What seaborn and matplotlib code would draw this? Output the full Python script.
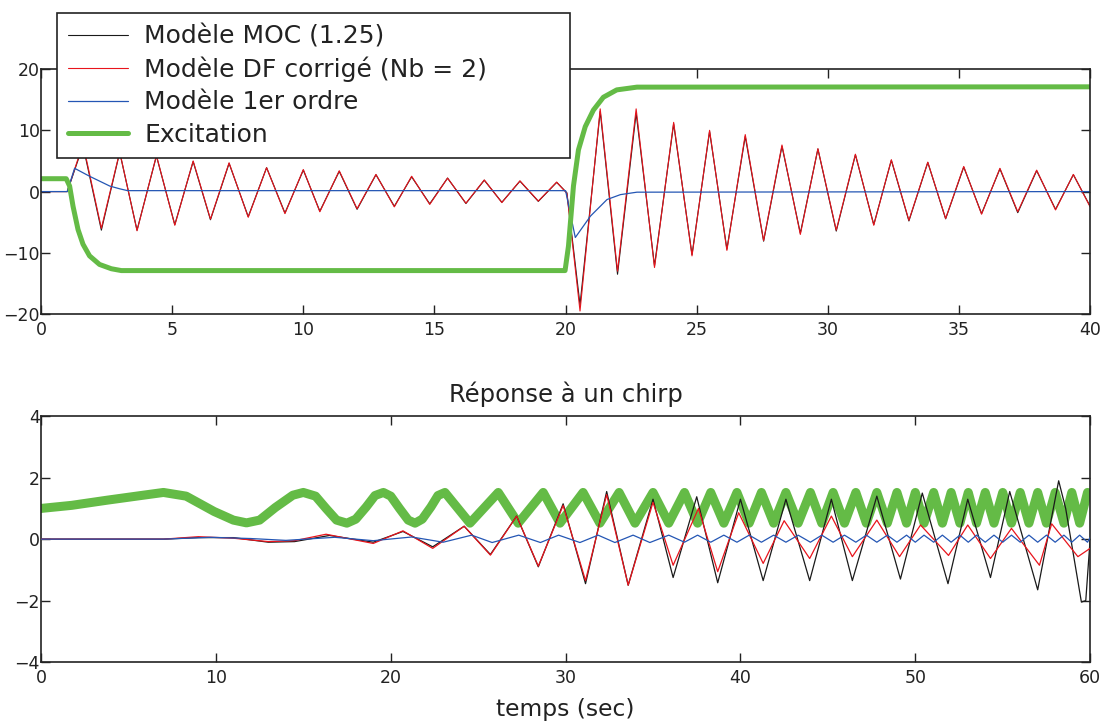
import matplotlib
matplotlib.use('Agg')
import matplotlib.pyplot as plt
import seaborn as sns

sns.set_style('ticks')
plt.rcParams['font.family'] = ['DejaVu Sans']
plt.rcParams['axes.unicode_minus'] = True

# ---- top plot: step response (extrema) ----
top_t = [0.0, 1.0, 1.6, 2.3, 3.0, 3.66, 4.4, 5.1, 5.8, 6.46, 7.17, 7.9, 8.6, 9.3, 10.0,
         10.63, 11.37, 12.05, 12.77, 13.47, 14.13, 14.82, 15.5, 16.2, 16.9, 17.57, 18.26,
         18.96, 19.66, 20.05, 20.55, 21.32, 21.98, 22.69, 23.39, 24.12, 24.82, 25.49, 26.15,
         26.85, 27.55, 28.25, 28.95, 29.62, 30.32, 31.05, 31.75, 32.42, 33.09, 33.81, 34.49,
         35.18, 35.86, 36.56, 37.24, 37.96, 38.68, 39.36, 40.0]
moc_top = [0, 0, 7.5, -6.3, 6.4, -6.3, 5.8, -5.4, 4.9, -4.6, 4.6, -4.1, 3.9, -3.5, 3.5,
           -3.2, 3.3, -2.9, 2.75, -2.4, 2.4, -2.0, 2.2, -1.95, 1.85, -1.75, 1.7,
           -1.6, 1.5, -0.2, -18.5, 13.1, -13.5, 12.8, -12.1, 11.05, -10.3, 9.8, -9.4,
           9.0, -8.1, 7.4, -6.8, 6.95, -6.45, 6.0, -5.4, 5.1, -4.8, 4.75, -4.45,
           4.0, -3.6, 3.7, -3.45, 3.4, -2.9, 2.75, -2.4]
df_top = [0, 0, 7.8, -6.0, 6.5, -6.4, 5.9, -5.5, 5.0, -4.5, 4.7, -4.2, 3.9, -3.6, 3.6,
          -3.3, 3.4, -2.8, 2.8, -2.5, 2.5, -2.1, 2.2, -1.9, 1.9, -1.8, 1.75,
          -1.55, 1.55, -0.3, -19.5, 13.5, -13.0, 13.5, -12.4, 11.3, -10.5, 10.0, -9.6,
          9.3, -8.0, 7.6, -7.0, 7.0, -6.3, 6.1, -5.5, 5.2, -4.7, 4.8, -4.4,
          4.1, -3.7, 3.8, -3.3, 3.5, -3.0, 2.8, -2.5]
ordre1_top_t = [0, 1.0, 1.28, 1.85, 2.62, 3.0, 3.3, 20.0, 20.37, 20.95, 21.58, 22.09, 22.72, 40.0]
ordre1_top = [0, 0, 3.8, 2.5, 0.9, 0.45, 0.15, 0.15, -7.5, -4.0, -1.3, -0.5, -0.1, 0]
exc_top_t = [0, 0.96, 1.09, 1.22, 1.41, 1.6, 1.85, 2.23, 2.68, 3.06, 19.98, 20.11, 20.3,
             20.49, 20.75, 21.06, 21.44, 21.95, 22.72, 40.0]
exc_top = [2.1, 2.1, 0.9, -2.4, -6.2, -8.6, -10.5, -11.9, -12.6, -12.9, -12.9, -8.9, 0.9,
           6.8, 10.6, 13.3, 15.4, 16.6, 17.05, 17.1]

# ---- bottom plot: chirp response ----
exc_bot_t = [0, 1.75, 3.8, 5.84, 7.0, 8.3, 9.9, 11.0, 11.75, 12.5, 13.4, 14.4, 15.0, 15.7,
             16.3, 16.9, 17.49, 18.0, 18.6, 19.1, 19.58, 20.0, 20.5, 21.0, 21.39, 21.8,
             22.3, 22.7, 23.1, 24.53, 26.15, 27.29, 28.72, 29.68, 31.0, 31.96, 33.06,
             33.97, 35.0, 35.9, 36.8, 37.55, 38.3, 39.05, 39.8, 40.5, 41.2, 41.9, 42.6,
             43.3, 44.0, 44.65, 45.3, 45.95, 46.6, 47.2, 47.8, 48.4, 48.95, 49.5, 50.0,
             50.5, 51.05, 51.55, 52.05, 52.55, 53.03, 53.5, 54.0, 54.5, 55.0, 55.5, 56.0,
             56.5, 57.0, 57.5, 58.0, 58.5, 58.95, 59.4, 59.85, 60.0]
exc_bot = [1.0, 1.1, 1.27, 1.43, 1.52, 1.4, 0.9, 0.62, 0.53, 0.62, 1.03, 1.43, 1.52, 1.4,
           1.0, 0.62, 0.52, 0.65, 1.05, 1.42, 1.52, 1.4, 1.0, 0.62, 0.52, 0.65,
           1.05, 1.42, 1.52, 0.52, 1.52, 0.52, 1.52, 0.52, 1.52, 0.52, 1.52,
           0.52, 1.52, 0.52, 1.52, 0.52, 1.52, 0.52, 1.52, 0.52, 1.52, 0.52, 1.52,
           0.52, 1.52, 0.52, 1.52, 0.52, 1.52, 0.52, 1.52, 0.52, 1.52, 0.52, 1.52,
           0.52, 1.52, 0.52, 1.52, 0.52, 1.52, 0.52, 1.52, 0.52, 1.52, 0.52, 1.52,
           0.52, 1.52, 0.52, 1.52, 0.52, 1.52, 0.52, 1.52, 1.45]
moc_bot_t = [0, 7.0, 9.0, 11.0, 13.0, 14.5, 16.5, 19.0, 20.7, 22.4, 24.2, 25.7, 27.2, 28.44,
             29.86, 31.14, 32.35, 33.58, 35.0, 36.15, 37.5, 38.7, 40.0, 41.3, 42.6, 43.96,
             45.2, 46.4, 47.8, 49.15, 50.4, 51.87, 53.0, 54.3, 55.4, 57.0, 58.2, 58.6,
             59.5, 59.75, 60.0]
moc_bot = [0, 0, 0.05, 0.05, -0.1, -0.08, 0.12, -0.1, 0.25, -0.25, 0.42, -0.5, 0.75, -0.9,
           1.15, -1.45, 1.55, -1.5, 1.3, -1.25, 1.38, -1.42, 1.3, -1.35, 1.3, -1.35,
           1.3, -1.35, 1.4, -1.3, 1.5, -1.45, 1.3, -1.25, 1.55, -1.65, 1.9, 1.0,
           -2.05, -2.0, 0.0]
df_bot_t = [0, 7.0, 9.0, 11.0, 13.0, 14.5, 16.3, 19.0, 20.7, 22.4, 24.2, 25.7, 27.2, 28.44,
            29.86, 31.14, 32.35, 33.58, 35.0, 36.15, 37.6, 38.7, 39.9, 41.3, 42.5, 43.96,
            45.2, 46.4, 47.8, 49.1, 50.3, 51.9, 53.0, 54.3, 55.5, 57.1, 57.8, 59.3, 60.0]
df_bot = [0, 0, 0.08, 0.03, -0.08, -0.05, 0.16, -0.14, 0.27, -0.3, 0.42, -0.52, 0.75, -0.88,
          1.1, -1.35, 1.45, -1.5, 1.2, -0.85, 1.0, -1.06, 0.86, -0.79, 0.6, -0.63,
          0.75, -0.57, 0.62, -0.57, 0.46, -0.53, 0.46, -0.63, 0.35, -0.85, 0.5, -0.57, -0.3]
ordre1_bot_t = [0, 7.0, 9.7, 12.0, 14.0, 16.8, 19.0, 21.2, 23.0, 24.63, 25.8, 27.32, 28.56,
                29.6, 30.82, 31.86, 32.82, 33.86, 34.82, 35.9, 36.8, 37.55, 38.3, 39.05,
                39.8, 40.5, 41.2, 41.9, 42.6, 43.3, 44.0, 44.65, 45.3, 45.95, 46.6, 47.2,
                47.8, 48.4, 48.95, 49.5, 50.0, 50.5, 51.05, 51.55, 52.05, 52.55, 53.03,
                53.5, 54.0, 54.5, 55.0, 55.5, 56.0, 56.5, 57.0, 57.5, 58.0, 58.5, 58.95,
                59.4, 59.85, 60.0]
ordre1_bot = [0, 0, 0.06, 0.02, -0.04, 0.06, -0.05, 0.07, -0.1, 0.13, -0.11, 0.13, -0.11,
              0.13, -0.11, 0.13, -0.11, 0.13, -0.11, 0.13, -0.1, 0.13, -0.1, 0.13,
              -0.1, 0.13, -0.1, 0.13, -0.1, 0.13, -0.1, 0.13, -0.1, 0.13, -0.1, 0.13,
              -0.1, 0.13, -0.1, 0.13, -0.1, 0.13, -0.1, 0.13, -0.1, 0.13, -0.1,
              0.13, -0.1, 0.13, -0.1, 0.13, -0.1, 0.13, -0.1, 0.13, -0.1, 0.13, -0.1,
              0.13, -0.1, 0.05]

labels = ['Modèle MOC (1.25)', 'Modèle DF corrigé (Nb = 2)', 'Modèle 1er ordre', 'Excitation']
c_moc = '#1a1a1a'
c_df = '#e8141c'
c_ord = '#2456b4'
c_exc = '#64bb46'

fig = plt.figure(figsize=(11.09, 7.27), dpi=100)
ax1 = fig.add_axes([0.037, 0.568, 0.946, 0.337])
ax2 = fig.add_axes([0.037, 0.0894, 0.946, 0.338])

sns.lineplot(x=top_t, y=moc_top, ax=ax1, color=c_moc, lw=0.8, sort=False, estimator=None, label=labels[0])
sns.lineplot(x=top_t, y=df_top, ax=ax1, color=c_df, lw=0.8, sort=False, estimator=None, label=labels[1])
sns.lineplot(x=ordre1_top_t, y=ordre1_top, ax=ax1, color=c_ord, lw=0.9, sort=False, estimator=None, label=labels[2])
sns.lineplot(x=exc_top_t, y=exc_top, ax=ax1, color=c_exc, lw=3.6, sort=False, estimator=None, label=labels[3])

sns.lineplot(x=exc_bot_t, y=exc_bot, ax=ax2, color=c_exc, lw=6.5, sort=False, estimator=None, zorder=1)
sns.lineplot(x=moc_bot_t, y=moc_bot, ax=ax2, color=c_moc, lw=0.9, sort=False, estimator=None, zorder=2)
sns.lineplot(x=df_bot_t, y=df_bot, ax=ax2, color=c_df, lw=0.9, sort=False, estimator=None, zorder=3)
sns.lineplot(x=ordre1_bot_t, y=ordre1_bot, ax=ax2, color=c_ord, lw=0.9, sort=False, estimator=None, zorder=4)

ax1.set_xlim(0, 40)
ax1.set_ylim(-20, 20)
ax1.set_xticks(range(0, 41, 5))
ax1.set_yticks([-20, -10, 0, 10, 20])
ax2.set_xlim(0, 60)
ax2.set_ylim(-4, 4)
ax2.set_xticks(range(0, 61, 10))
ax2.set_yticks([-4, -2, 0, 2, 4])

for ax in (ax1, ax2):
    ax.set_xlabel('')
    ax.set_ylabel('')
    for sp in ax.spines.values():
        sp.set_visible(True)
        sp.set_color('#222222')
        sp.set_linewidth(1.2)
    ax.tick_params(direction='in', length=6.5, width=1.0, top=True, right=True,
                   labelsize=12.5, colors='#222222')
    ax.tick_params(axis='x', pad=5)
    ax.tick_params(axis='y', pad=1)

ax2.set_title('Réponse à un chirp', fontsize=17.5, color='#222222', pad=10)
ax2.set_xlabel('temps (sec)', fontsize=16.8, color='#222222', labelpad=8)

leg = ax1.legend(loc='upper left', bbox_to_anchor=(0.0514, 0.784, 0.463, 0.198),
                 bbox_transform=fig.transFigure, mode='expand', borderaxespad=0,
                 fontsize=18, handlelength=2.4, handletextpad=0.64, labelspacing=0.33,
                 borderpad=0.45, fancybox=False, framealpha=1, edgecolor='#222222')
leg.get_frame().set_linewidth(1.2)
for t in leg.get_texts():
    t.set_color('#222222')

fig.savefig('out.png', dpi=100)
